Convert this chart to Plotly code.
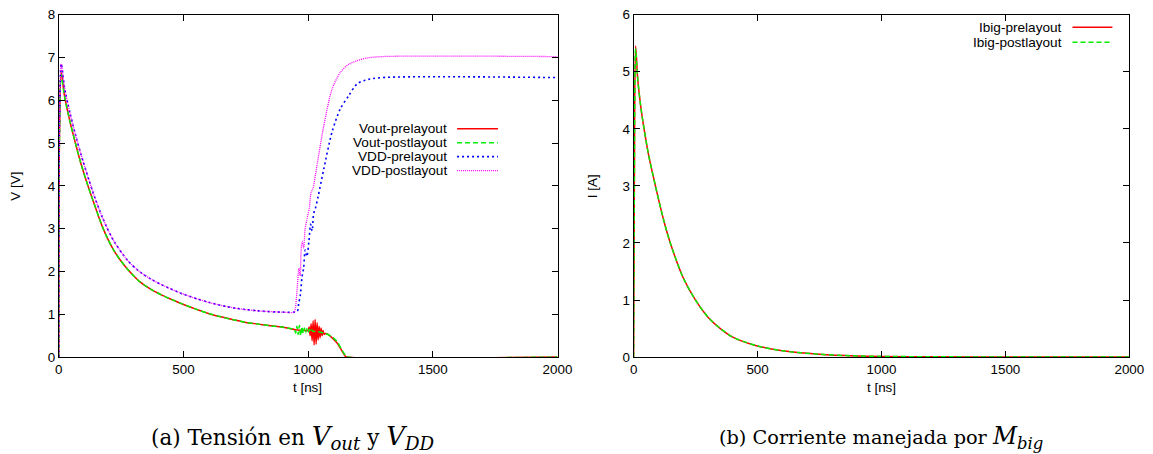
import plotly.graph_objects as go

W, H = 1153, 454
# the page is shown slightly reduced; positions below are given in final pixels
SX, BX = 0.986, 1.8
SY, BY = 0.972, 4.6

# ---------------- panel (a): output and supply voltages ----------------
t_vout_pre = [0, 3, 10, 23, 45, 69, 90, 116, 130, 145, 160, 176, 195, 220, 245, 276,
              300, 323, 370, 416, 450, 500, 550, 600, 650, 700, 750, 800, 850, 896,
              949, 990, 1000, 1004, 1008, 1012, 1016, 1020, 1024, 1028, 1032, 1036,
              1040, 1044, 1048, 1052, 1056, 1060, 1064, 1069, 1080, 1096, 1116, 1136,
              1149, 1155, 2000]
v_vout_pre = [0, 5.2, 6.65, 6.1, 5.5, 4.95, 4.5, 4.02, 3.78, 3.53, 3.28, 3.03, 2.78,
              2.5, 2.28, 2.05, 1.9, 1.77, 1.58, 1.44, 1.35, 1.23, 1.12, 1.02, 0.94,
              0.87, 0.81, 0.77, 0.73, 0.70, 0.64, 0.62, 0.62, 0.70, 0.50, 0.78, 0.38,
              0.85, 0.28, 0.88, 0.30, 0.80, 0.40, 0.72, 0.45, 0.68, 0.50, 0.62, 0.53,
              0.55, 0.53, 0.45, 0.33, 0.14, 0.02, 0, 0]

t_vout_post = [0, 3, 10, 23, 45, 69, 90, 116, 130, 145, 160, 176, 195, 220, 245, 276,
               300, 323, 370, 416, 450, 500, 550, 600, 650, 700, 750, 800, 850, 896,
               940, 945, 950, 955, 960, 965, 970, 975, 980, 985, 990, 995, 1000, 1005,
               1010, 1015, 1020, 1030, 1069, 1096, 1116, 1136, 1152, 1158, 2000]
v_vout_post = [0, 5.2, 6.6, 6.1, 5.5, 4.95, 4.5, 4.02, 3.78, 3.53, 3.28, 3.03, 2.78,
               2.5, 2.28, 2.05, 1.9, 1.77, 1.58, 1.44, 1.35, 1.23, 1.12, 1.02, 0.94,
               0.87, 0.81, 0.77, 0.73, 0.70, 0.65, 0.64, 0.56, 0.72, 0.53, 0.74, 0.50,
               0.71, 0.55, 0.68, 0.57, 0.66, 0.58, 0.65, 0.58, 0.63, 0.60, 0.60, 0.55,
               0.47, 0.36, 0.16, 0.02, 0, 0]

t_vdd_pre = [0, 3, 10, 23, 45, 69, 90, 116, 145, 176, 220, 276, 323, 370, 416, 500,
             600, 700, 800, 896, 956, 962, 969, 975, 982, 988, 995, 1003, 1010, 1016,
             1022, 1029, 1040, 1063, 1096, 1129, 1163, 1196, 1229, 1296, 2000]
v_vdd_pre = [0, 5.5, 6.85, 6.3, 5.7, 5.15, 4.72, 4.23, 3.72, 3.25, 2.72, 2.26, 2.0,
             1.82, 1.68, 1.47, 1.28, 1.15, 1.08, 1.05, 1.07, 1.25, 1.46, 1.85, 2.08,
             2.5, 2.35, 2.7, 3.1, 2.95, 3.35, 3.47, 3.75, 4.4, 5.26, 5.8, 6.11, 6.38,
             6.47, 6.53, 6.53]

t_vdd_post = [0, 3, 10, 23, 45, 69, 90, 116, 145, 176, 220, 276, 323, 370, 416, 500,
              600, 700, 800, 896, 944, 949, 956, 963, 968, 972, 976, 982, 988, 996,
              1005, 1012, 1020, 1029, 1063, 1096, 1129, 1163, 1229, 1296, 2000]
v_vdd_post = [0, 5.5, 6.85, 6.3, 5.7, 5.15, 4.72, 4.23, 3.72, 3.25, 2.72, 2.26, 2.0,
              1.82, 1.68, 1.47, 1.28, 1.15, 1.08, 1.05, 1.05, 1.15, 1.6, 2.08, 1.9,
              2.5, 2.7, 2.55, 3.0, 3.24, 3.5, 3.85, 3.95, 4.25, 5.41, 6.26, 6.65, 6.84,
              6.98, 7.02, 7.02]

# ---------------- panel (b): current through M_big ----------------
t_ibig_pre = [0, 3, 8, 17, 30, 44, 60, 88, 120, 148, 200, 248, 300, 350, 400, 495,
              600, 748, 900, 1000, 1200, 1500, 2000]
i_ibig_pre = [0, 3.0, 5.45, 4.85, 4.35, 3.95, 3.55, 3.0, 2.42, 2.0, 1.39, 1.01, 0.7,
              0.5, 0.35, 0.2, 0.11, 0.05, 0.02, 0.012, 0.005, 0.002, 0]

t_ibig_post = [0, 3, 8, 17, 30, 44, 60, 88, 120, 148, 200, 248, 300, 350, 400, 495,
               600, 748, 900, 1000, 1200, 1500, 2000]
i_ibig_post = [0, 3.0, 5.4, 4.85, 4.35, 3.95, 3.55, 3.0, 2.42, 2.0, 1.39, 1.01, 0.7,
               0.5, 0.35, 0.2, 0.11, 0.05, 0.02, 0.012, 0.005, 0.002, 0]

x_ticks = [0, 500, 1000, 1500, 2000]

RED, GREEN, BLUE, MAGENTA = "#ff0000", "#00ee00", "#0000ff", "#ff00ff"
DASH_SOLID = "solid"
DASH_GREEN = "5px,3px"
DASH_BLUE = "2px,3px"
DASH_MAG = "1px,1px"

SANS = "Liberation Sans, Arial, sans-serif"
SERIF = "DejaVu Serif, serif"


def fx(p):
    return (p - BX) / SX / W


def fy(p):
    return 1 - (p - BY) / SY / H


fig = go.Figure()

left_series = [
    ("Vout-prelayout", t_vout_pre, v_vout_pre, RED, DASH_SOLID, 1.5),
    ("Vout-postlayout", t_vout_post, v_vout_post, GREEN, DASH_GREEN, 1.5),
    ("VDD-prelayout", t_vdd_pre, v_vdd_pre, BLUE, DASH_BLUE, 1.6),
    ("VDD-postlayout", t_vdd_post, v_vdd_post, MAGENTA, DASH_MAG, 1.3),
]
for name, tt, vv, col, dash, w in left_series:
    fig.add_trace(go.Scatter(x=tt, y=vv, mode="lines", name=name,
                             line=dict(color=col, dash=dash, width=w,
                                       shape="spline", smoothing=0.8),
                             xaxis="x", yaxis="y", showlegend=False))

right_series = [
    ("Ibig-prelayout", t_ibig_pre, i_ibig_pre, RED, DASH_SOLID, 1.5),
    ("Ibig-postlayout", t_ibig_post, i_ibig_post, GREEN, DASH_GREEN, 1.5),
]
for name, tt, vv, col, dash, w in right_series:
    fig.add_trace(go.Scatter(x=tt, y=vv, mode="lines", name=name,
                             line=dict(color=col, dash=dash, width=w,
                                       shape="spline", smoothing=0.8),
                             xaxis="x2", yaxis="y2", showlegend=False))

# plot frames
L0, L1 = 56.7, 556.7
R0, R1 = 633.0, 1130.0
TOP, BOT = 12.3, 356.5

axis_common = dict(showline=True, linecolor="black", linewidth=1, mirror="ticks",
                   ticks="inside", ticklen=6, tickwidth=1, tickcolor="black",
                   showgrid=False, zeroline=False, ticklabeloverflow="allow",
                   tickfont=dict(family=SANS, size=13.4, color="black"))

fig.update_layout(
    width=W, height=H,
    margin=dict(l=0, r=0, t=0, b=0),
    paper_bgcolor="white", plot_bgcolor="white",
    xaxis=dict(domain=[fx(L0), fx(L1)], range=[0, 2000], tickvals=x_ticks,
               anchor="y", **axis_common),
    yaxis=dict(domain=[fy(BOT), fy(TOP)], range=[0, 8], dtick=1, tick0=0,
               anchor="x", **axis_common),
    xaxis2=dict(domain=[fx(R0), fx(R1)], range=[0, 2000], tickvals=x_ticks,
                anchor="y2", **axis_common),
    yaxis2=dict(domain=[fy(BOT), fy(TOP)], range=[0, 6], dtick=1, tick0=0,
                anchor="x2", **axis_common),
)

annotations = []
shapes = []


def label(text, xp, yp, size=13.4, angle=0, xanchor="center", family=SANS):
    annotations.append(dict(text=text, x=fx(xp), y=fy(yp), xref="paper", yref="paper",
                            showarrow=False, textangle=angle, xanchor=xanchor,
                            yanchor="middle", font=dict(family=family, size=size,
                                                        color="black")))


# axis titles
label("V [V]", 13, 185, angle=-90)
label("t [ns]", 306, 387)
label("I [A]", 592, 185, angle=-90)
label("t [ns]", 882, 387)

# key for panel (a)
rows_a = [127, 141, 155, 169]
for (name, _, _, col, dash, w), ry in zip(left_series, rows_a):
    label(name, 448, ry, size=13.6, xanchor="right")
    shapes.append(dict(type="line", xref="paper", yref="paper",
                       x0=fx(456), x1=fx(497), y0=fy(ry), y1=fy(ry),
                       line=dict(color=col, dash=dash, width=w)))

# key for panel (b)
rows_b = [25, 40]
for (name, _, _, col, dash, w), ry in zip(right_series, rows_b):
    label(name, 1064, ry, size=13.6, xanchor="right")
    shapes.append(dict(type="line", xref="paper", yref="paper",
                       x0=fx(1073), x1=fx(1113), y0=fy(ry), y1=fy(ry),
                       line=dict(color=col, dash=dash, width=w)))

# captions
label("(a) Tensión en <span style=\"font-size:26px\"><i>V</i><sub><i>out</i></sub>"
      "</span> y <span style=\"font-size:26px\"><i>V</i><sub><i>DD</i></sub></span>",
      292, 437, size=21.5, family=SERIF)
label("(b) Corriente manejada por <span style=\"font-size:23.5px\"><i>M</i>"
      "<sub><i>big</i></sub></span>",
      881, 437, size=19.3, family=SERIF)

fig.update_layout(annotations=annotations, shapes=shapes)

fig.write_html("out.html")
